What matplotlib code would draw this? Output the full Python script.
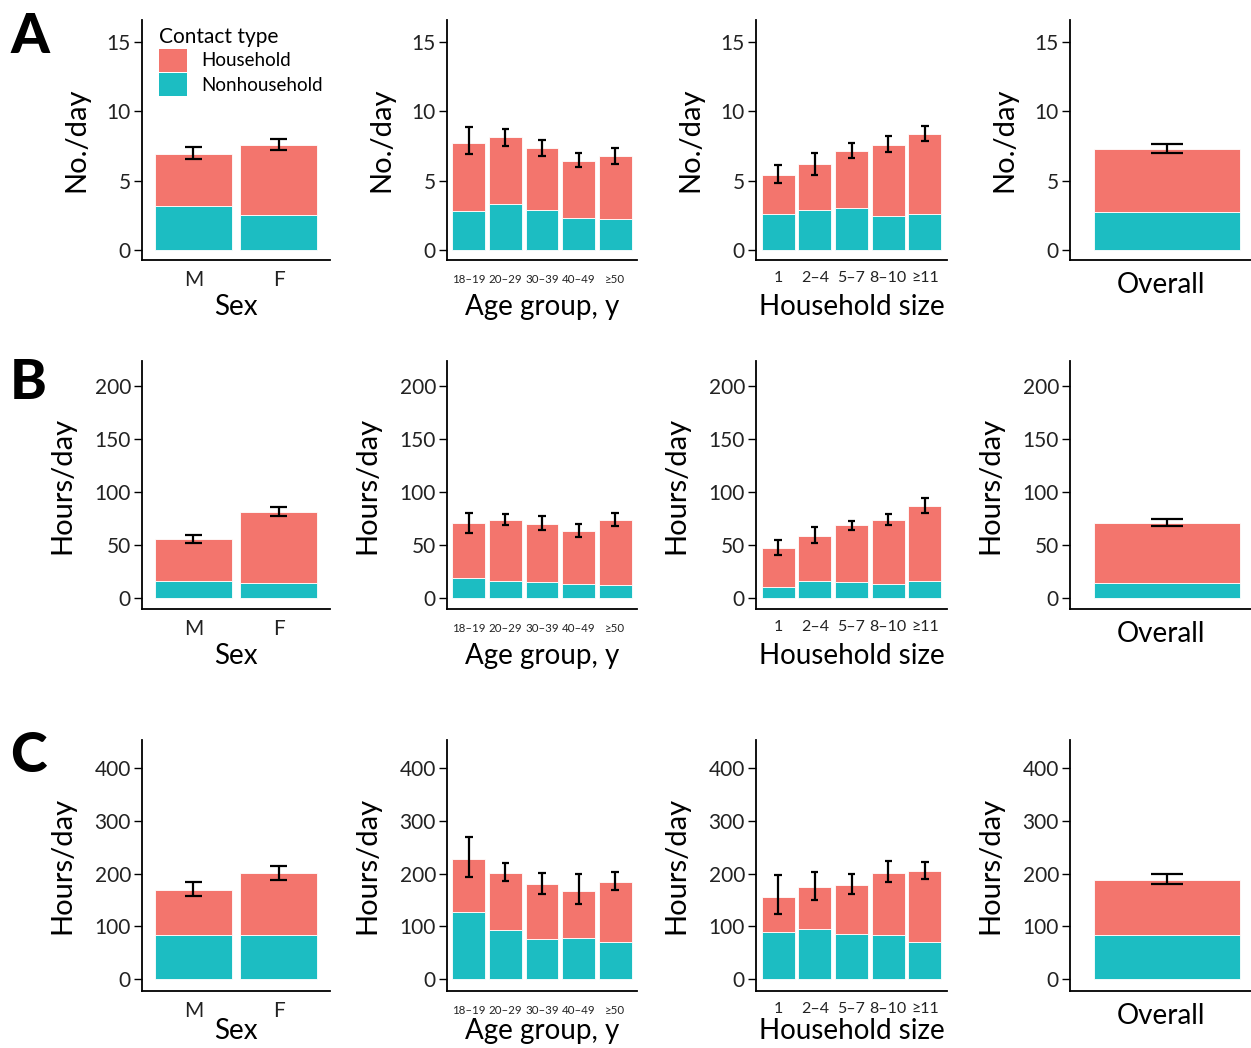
import matplotlib
matplotlib.use("Agg")
import matplotlib.pyplot as plt
from matplotlib.patches import Patch
import numpy as np

plt.rcParams['font.family'] = ['Lato', 'DejaVu Sans']

HH_COLOR = '#F3756D'
NH_COLOR = '#1CBDC2'

# ---------------- Data ----------------
sex_labels = ['M', 'F']
age_labels = ['18–19', '20–29', '30–39', '40–49', '≥50']
hhsize_labels = ['1', '2–4', '5–7', '8–10', '≥11']
overall_labels = ['Overall']

# Row A: contacts No./day
A_sex_nonhh = [3.17, 2.52]
A_sex_hh = [3.75, 5.05]
A_sex_lo = [6.58, 7.20]
A_sex_hi = [7.40, 8.00]

A_age_nonhh = [2.84, 3.32, 2.87, 2.31, 2.22]
A_age_hh = [4.86, 4.82, 4.50, 4.14, 4.55]
A_age_lo = [6.90, 7.54, 6.81, 6.02, 6.24]
A_age_hi = [8.90, 8.74, 7.95, 7.03, 7.39]

A_size_nonhh = [2.60, 2.89, 3.01, 2.48, 2.58]
A_size_hh = [2.84, 3.30, 4.14, 5.13, 5.80]
A_size_lo = [4.82, 5.44, 6.65, 7.10, 7.87]
A_size_hi = [6.14, 7.03, 7.73, 8.23, 8.96]

A_all_nonhh = [2.72]
A_all_hh = [4.58]
A_all_lo = [7.03]
A_all_hi = [7.63]

# Row B: Hours/day
B_sex_nonhh = [15.5, 13.6]
B_sex_hh = [39.7, 67.2]
B_sex_lo = [52.1, 77.3]
B_sex_hi = [59.3, 85.5]

B_age_nonhh = [18.7, 16.1, 14.9, 13.0, 12.3]
B_age_hh = [51.6, 57.3, 55.0, 49.7, 61.1]
B_age_lo = [61.4, 69.0, 63.9, 57.3, 67.4]
B_age_hi = [80.4, 79.1, 77.2, 69.6, 80.1]

B_size_nonhh = [10.4, 15.8, 14.9, 13.0, 15.5]
B_size_hh = [36.1, 42.4, 53.5, 60.4, 70.9]
B_size_lo = [39.9, 51.3, 63.9, 68.4, 79.7]
B_size_hi = [54.7, 66.8, 72.5, 79.1, 94.3]

B_all_nonhh = [14.2]
B_all_hh = [56.1]
B_all_lo = [68.1]
B_all_hi = [74.4]

# Row C: Hours/day
C_sex_nonhh = [84, 83]
C_sex_hh = [85, 119]
C_sex_lo = [157, 189]
C_sex_hi = [184, 215]

C_age_nonhh = [128, 94, 76, 78, 71]
C_age_hh = [100, 108, 104, 90, 114]
C_age_lo = [193, 186, 162, 143, 169]
C_age_hi = [269, 220, 201, 199, 203]

C_size_nonhh = [90, 96, 86, 83, 70]
C_size_hh = [65, 78, 93, 119, 135]
C_size_lo = [123, 151, 162, 185, 190]
C_size_hi = [197, 203, 200, 224, 222]

C_all_nonhh = [83]
C_all_hh = [105]
C_all_lo = [180]
C_all_hi = [200]

# ---------------- Layout ----------------
W, H = 1251, 1048
fig = plt.figure(figsize=(W / 100, H / 100), dpi=100)

col_lr = [(142, 330), (447, 637), (756, 947), (1070, 1251)]
row_tb = [(20, 260), (361, 609), (740, 991)]
row_ylim = [(-0.72, 16.6), (-10.7, 223.6), (-22.3, 453.5)]
row_yticks = [[0, 5, 10, 15], [0, 50, 100, 150, 200], [0, 100, 200, 300, 400]]
row_ylabel = ['No./day', 'Hours/day', 'Hours/day']
row_ylab_off = [66, 80, 80]
row_xlab_off = [55, 55, 48]

rows = [
    [(sex_labels, A_sex_nonhh, A_sex_hh, A_sex_lo, A_sex_hi, 'Sex'),
     (age_labels, A_age_nonhh, A_age_hh, A_age_lo, A_age_hi, 'Age group, y'),
     (hhsize_labels, A_size_nonhh, A_size_hh, A_size_lo, A_size_hi, 'Household size'),
     (overall_labels, A_all_nonhh, A_all_hh, A_all_lo, A_all_hi, 'Overall')],
    [(sex_labels, B_sex_nonhh, B_sex_hh, B_sex_lo, B_sex_hi, 'Sex'),
     (age_labels, B_age_nonhh, B_age_hh, B_age_lo, B_age_hi, 'Age group, y'),
     (hhsize_labels, B_size_nonhh, B_size_hh, B_size_lo, B_size_hi, 'Household size'),
     (overall_labels, B_all_nonhh, B_all_hh, B_all_lo, B_all_hi, 'Overall')],
    [(sex_labels, C_sex_nonhh, C_sex_hh, C_sex_lo, C_sex_hi, 'Sex'),
     (age_labels, C_age_nonhh, C_age_hh, C_age_lo, C_age_hi, 'Age group, y'),
     (hhsize_labels, C_size_nonhh, C_size_hh, C_size_lo, C_size_hi, 'Household size'),
     (overall_labels, C_all_nonhh, C_all_hh, C_all_lo, C_all_hi, 'Overall')],
]

xtick_sizes = {'Sex': 15, 'Age group, y': 8.3, 'Household size': 11.5, 'Overall': 12}
xtick_pads = {'Sex': 7, 'Age group, y': 10, 'Household size': 8, 'Overall': 6}

for r, row in enumerate(rows):
    top, bot = row_tb[r]
    for c, (cats, nonhh, hh, lo, hi, xlabel) in enumerate(row):
        left, right = col_lr[c]
        ax = fig.add_axes([left / W, 1 - bot / H, (right - left) / W, (bot - top) / H])
        x = np.arange(1, len(cats) + 1)
        ax.bar(x, nonhh, width=0.9, color=NH_COLOR, edgecolor='white', linewidth=0.6, zorder=2)
        ax.bar(x, hh, width=0.9, bottom=nonhh, color=HH_COLOR, edgecolor='white', linewidth=0.6, zorder=2)
        ax.vlines(x, lo, hi, color='black', linewidth=1.6, zorder=3)
        ax.hlines(lo, x - 0.1, x + 0.1, color='black', linewidth=1.6, zorder=3)
        ax.hlines(hi, x - 0.1, x + 0.1, color='black', linewidth=1.6, zorder=3)

        if xlabel == 'Overall':
            ax.set_xlim(0.4, 0.4 + (right - left) / 162.0)
            ax.set_xticks([])
            ax.set_xlabel(xlabel, fontsize=20, va='baseline')
            ax.xaxis.set_label_coords(0.5, -33 / (bot - top))
        else:
            ax.set_xlim(0.4, len(cats) + 0.6)
            ax.set_xticks(x)
            ax.set_xticklabels(cats, fontsize=xtick_sizes[xlabel], color='#222222')
            ax.set_xlabel(xlabel, fontsize=20, va='baseline')
            ax.xaxis.set_label_coords(0.5, -row_xlab_off[r] / (bot - top))
        ax.tick_params(axis='x', length=0, pad=xtick_pads[xlabel])

        ax.set_ylim(*row_ylim[r])
        ax.set_yticks(row_yticks[r])
        ax.tick_params(axis='y', labelsize=15, length=6, width=1.0, pad=2, labelcolor='#222222')
        ax.set_ylabel(row_ylabel[r], fontsize=21, va='center')
        ax.yaxis.set_label_coords(-row_ylab_off[r] / (right - left), 0.5)

        for s in ['top', 'right']:
            ax.spines[s].set_visible(False)
        for s in ['left', 'bottom']:
            ax.spines[s].set_linewidth(1.3)
            ax.spines[s].set_color('black')

# Panel letters
for letter, ytop in zip(['A', 'B', 'C'], [12, 358, 731]):
    fig.text(10 / W, 1 - ytop / H, letter, fontsize=40, fontweight='black',
             ha='left', va='top', family=['Lato', 'DejaVu Sans'])

# Legend
handles = [Patch(facecolor=HH_COLOR, edgecolor='none', label='Household'),
           Patch(facecolor=NH_COLOR, edgecolor='none', label='Nonhousehold')]
leg = fig.legend(handles=handles, title='Contact type', loc='upper left',
                 bbox_to_anchor=(146 / W, 1 - 14 / H), frameon=False,
                 fontsize=13.5, title_fontsize=15, handlelength=1.5, handleheight=1.5,
                 handletextpad=0.75, labelspacing=0.08, borderpad=0.2, alignment='left')

fig.savefig('out.png', dpi=100)
